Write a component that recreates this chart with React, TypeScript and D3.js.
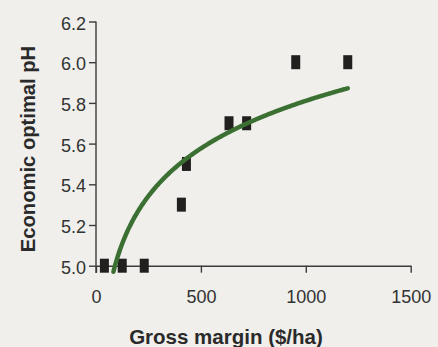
import React, { useEffect, useRef } from "react";
import * as d3 from "d3";

// Gross margin ($/ha) vs economic optimal pH
const grossMargin = [40, 125, 230, 407, 431, 634, 718, 952, 1200];
const optimalPH = [5.0, 5.0, 5.0, 5.3, 5.5, 5.7, 5.7, 6.0, 6.0];
const xTicks = [0, 500, 1000, 1500];
const yTicks = [5.0, 5.2, 5.4, 5.6, 5.8, 6.0, 6.2];
const trendRange = [83, 1200];

const W = 438;
const H = 347;

export default function App() {
  const svgRef = useRef<SVGSVGElement>(null);

  useEffect(() => {
    const svg = d3.select(svgRef.current);
    svg.selectAll("*").remove();

    const x = d3.scaleLinear().domain([0, 1500]).range([96, 410.7]);
    const y = d3.scaleLinear().domain([5.0, 6.2]).range([265.7, 21.5]);

    svg.append("rect").attr("width", W).attr("height", H).attr("fill", "#f0efeb");

    const axisColor = "#3c3c3c";
    const font = "'Liberation Sans', Arial, sans-serif";

    // y axis
    const yAxis = svg.append("g")
      .attr("transform", `translate(${x(0)},0)`)
      .call(d3.axisLeft(y).tickValues(yTicks).tickFormat(d3.format(".1f")).tickSize(7).tickPadding(3).tickSizeOuter(0));
    yAxis.select(".domain").attr("stroke", axisColor).attr("stroke-width", 1.4)
      .attr("d", `M0,${y(6.2)}V273`);
    yAxis.selectAll(".tick line").attr("stroke", axisColor).attr("stroke-width", 1.4);
    yAxis.selectAll(".tick text")
      .attr("fill", "#333").attr("font-size", 18).attr("font-family", font).attr("dy", "0.42em");

    // x axis
    const xAxis = svg.append("g")
      .attr("transform", `translate(0,${y(5.0)})`)
      .call(d3.axisBottom(x).tickValues(xTicks).tickFormat(d3.format("d")).tickSize(7).tickPadding(18).tickSizeOuter(0));
    xAxis.select(".domain").attr("stroke", axisColor).attr("stroke-width", 1.4);
    xAxis.selectAll(".tick line").attr("stroke", axisColor).attr("stroke-width", 1.4);
    xAxis.selectAll(".tick text")
      .attr("fill", "#333").attr("font-size", 18).attr("font-family", font);

    // least-squares logarithmic fit y = a ln(x) + b
    const lx = grossMargin.map(Math.log);
    const mx = d3.mean(lx) as number;
    const my = d3.mean(optimalPH) as number;
    const a = d3.sum(lx, (v, i) => (v - mx) * (optimalPH[i] - my)) / d3.sum(lx, (v) => (v - mx) ** 2);
    const b = my - a * mx;
    const trendX = d3.range(trendRange[0], trendRange[1], 4).concat([trendRange[1]]);

    // markers
    svg.append("g").selectAll("rect")
      .data(grossMargin)
      .join("rect")
      .attr("x", (d) => x(d) - 4.5)
      .attr("y", (d, i) => y(optimalPH[i]) - 7)
      .attr("width", 9)
      .attr("height", 14)
      .attr("fill", "#221f1f");

    const line = d3.line<number>()
      .x((d) => x(d))
      .y((d) => y(a * Math.log(d) + b))
      .curve(d3.curveBasis);

    svg.append("path")
      .datum(trendX)
      .attr("d", line)
      .attr("fill", "none")
      .attr("stroke", "#3c7033")
      .attr("stroke-width", 4.5)
      .attr("stroke-linecap", "round");

    // titles
    svg.append("text")
      .attr("x", 226).attr("y", 344)
      .attr("text-anchor", "middle")
      .attr("font-family", font).attr("font-weight", "bold").attr("font-size", 20.5)
      .attr("fill", "#2a2a2a")
      .text("Gross margin ($/ha)");

    svg.append("text")
      .attr("transform", `translate(35,149) rotate(-90)`)
      .attr("text-anchor", "middle")
      .attr("font-family", font).attr("font-weight", "bold").attr("font-size", 20.2)
      .attr("fill", "#2a2a2a")
      .text("Economic optimal pH");
  }, []);

  return (
    <svg
      ref={svgRef}
      width={W}
      height={H}
      style={{ position: "absolute", left: 0, top: 0, display: "block" }}
    />
  );
}
